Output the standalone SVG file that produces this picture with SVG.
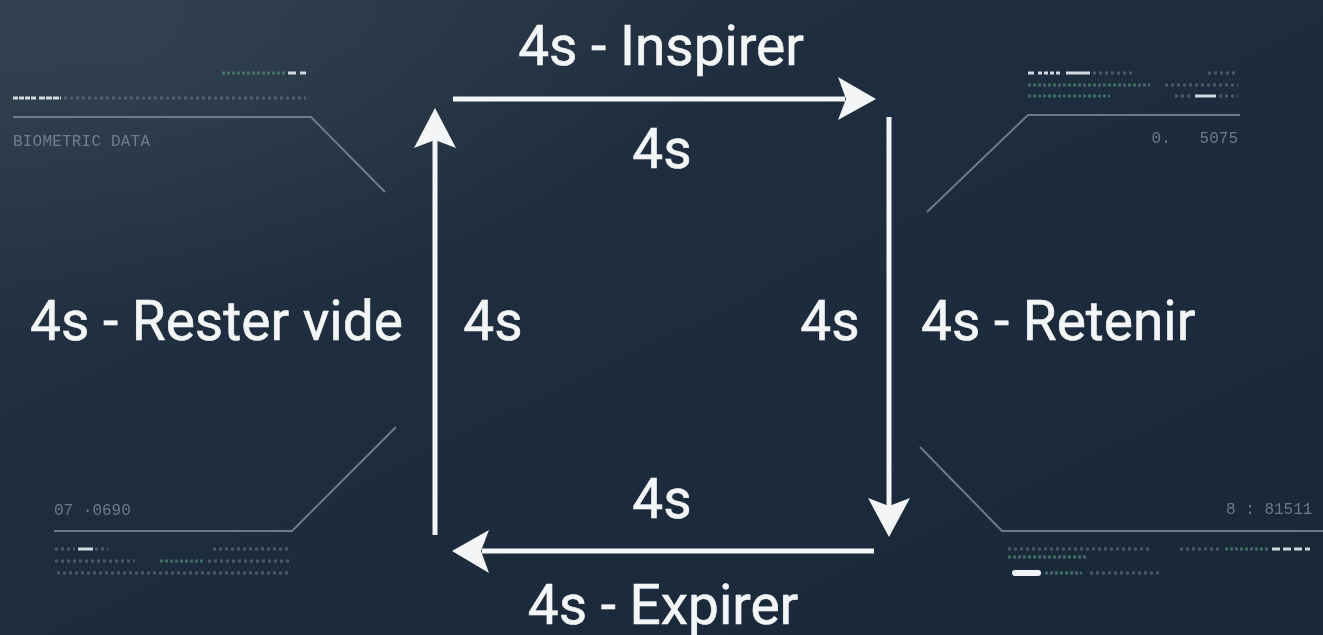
<svg xmlns="http://www.w3.org/2000/svg" width="1323" height="635" viewBox="0 0 1323 635">
  <defs>
    <linearGradient id="bg" x1="0" y1="0" x2="1" y2="1">
      <stop offset="0" stop-color="#2d3b4a"/>
      <stop offset="0.35" stop-color="#1e2e3e"/>
      <stop offset="1" stop-color="#182838"/>
    </linearGradient>
    <radialGradient id="glow" cx="0.08" cy="0.05" r="0.45">
      <stop offset="0" stop-color="#3a4856" stop-opacity="0.5"/>
      <stop offset="1" stop-color="#3a4856" stop-opacity="0"/>
    </radialGradient>
    <filter id="soft" x="-5%" y="-20%" width="110%" height="140%">
      <feGaussianBlur stdDeviation="0.6"/>
    </filter>
  </defs>
  <style>
    .lbl { font-family: Roboto, "Liberation Sans", sans-serif; font-size: 55px; fill: #f3f5f6; stroke: #f3f5f6; stroke-width: 0.6; }
    .arrow { stroke: #f3f5f6; stroke-width: 5; fill: none; }
    .head { fill: #f3f5f6; }
    .hud { stroke: #7e8d9b; stroke-width: 2; fill: none; opacity: 0.8; }
    .num { font-family: "Liberation Mono", "DejaVu Sans Mono", monospace; font-size: 16px; fill: #8794a0; opacity: 0.75; }
    .dim { stroke: #6f7f8c; stroke-width: 3; stroke-dasharray: 3 3; opacity: 0.55; }
    .grn { stroke: #4f8a72; stroke-width: 3; stroke-dasharray: 3 2; opacity: 0.7; }
    .wht { stroke: #e6ecef; stroke-width: 3; opacity: 0.9; }
  </style>
  <rect width="1323" height="635" fill="url(#bg)"/>
  <rect width="1323" height="635" fill="url(#glow)"/>

  <g id="hud-top-left" filter="url(#soft)">
    <line class="grn" x1="222" y1="73" x2="286" y2="73"/>
    <line class="wht" x1="288" y1="73" x2="296" y2="73"/>
    <line class="wht" x1="300" y1="73" x2="306" y2="73"/>
    <line class="wht" x1="13" y1="98" x2="36" y2="98" stroke-dasharray="5 1"/>
    <line class="wht" x1="39" y1="98" x2="61" y2="98" stroke-dasharray="6 1" opacity="0.7"/>
    <line class="dim" x1="64" y1="98" x2="306" y2="98"/>
    <polyline class="hud" points="13,117 311,117 385,192"/>
    <text class="num" x="13" y="146" letter-spacing="0.2">BIOMETRIC DATA</text>
  </g>

  <g id="hud-top-right" filter="url(#soft)">
    <line class="wht" x1="1028" y1="73" x2="1034" y2="73"/>
    <line class="wht" x1="1038" y1="73" x2="1061" y2="73" stroke-dasharray="4 2"/>
    <line class="wht" x1="1066" y1="73" x2="1090" y2="73"/>
    <line class="dim" x1="1093" y1="73" x2="1132" y2="73"/>
    <line class="dim" x1="1208" y1="73" x2="1236" y2="73"/>
    <line class="grn" x1="1028" y1="85" x2="1150" y2="85" opacity="0.55"/>
    <line class="dim" x1="1165" y1="85" x2="1238" y2="85"/>
    <line class="grn" x1="1028" y1="96" x2="1110" y2="96" opacity="0.45"/>
    <line class="dim" x1="1175" y1="96" x2="1193" y2="96"/>
    <line class="wht" x1="1195" y1="96" x2="1216" y2="96"/>
    <line class="dim" x1="1219" y1="96" x2="1238" y2="96"/>
    <polyline class="hud" points="927,212 1028,115 1240,115"/>
    <text class="num" x="1238" y="143" text-anchor="end" xml:space="preserve">0.   5075</text>
  </g>

  <g id="hud-bottom-left" filter="url(#soft)">
    <text class="num" x="54" y="515">07 ·0690</text>
    <polyline class="hud" points="396,427 292,531 54,531"/>
    <line class="dim" x1="55" y1="549" x2="75" y2="549"/>
    <line class="wht" x1="78" y1="549" x2="93" y2="549"/>
    <line class="dim" x1="95" y1="549" x2="108" y2="549"/>
    <line class="dim" x1="213" y1="549" x2="290" y2="549"/>
    <line class="dim" x1="55" y1="561" x2="135" y2="561"/>
    <line class="grn" x1="160" y1="561" x2="205" y2="561"/>
    <line class="dim" x1="208" y1="561" x2="290" y2="561"/>
    <line class="dim" x1="57" y1="573" x2="290" y2="573"/>
  </g>

  <g id="hud-bottom-right" filter="url(#soft)">
    <text class="num" x="1226" y="514" xml:space="preserve">8 : 81511</text>
    <polyline class="hud" points="920,447 1002,531 1323,531"/>
    <line class="dim" x1="1008" y1="549" x2="1150" y2="549"/>
    <line class="dim" x1="1180" y1="549" x2="1222" y2="549"/>
    <line class="grn" x1="1225" y1="549" x2="1270" y2="549"/>
    <line class="wht" x1="1272" y1="549" x2="1310" y2="549" stroke-dasharray="8 3"/>
    <line class="grn" x1="1008" y1="557" x2="1088" y2="557" stroke-width="2" opacity="0.5"/>
    <line x1="1015" y1="573" x2="1038" y2="573" stroke="#f0f4f6" stroke-width="6" stroke-linecap="round"/>
    <line class="grn" x1="1045" y1="573" x2="1082" y2="573" opacity="0.5"/>
    <line class="dim" x1="1090" y1="573" x2="1160" y2="573" stroke-dasharray="2 6"/>
  </g>

  <g id="connectors">
    <line class="arrow" x1="453" y1="99" x2="845" y2="99"/>
    <polygon class="head" points="876,99 838,77 846,99 838,120"/>
    <line class="arrow" x1="889" y1="117" x2="889" y2="507"/>
    <polygon class="head" points="889,537 868,498 889,506 910,498"/>
    <line class="arrow" x1="874" y1="551" x2="482" y2="551"/>
    <polygon class="head" points="452,551 489,530 481,551 489,573"/>
    <line class="arrow" x1="435" y1="535" x2="435" y2="140"/>
    <polygon class="head" points="435,108 414,148 435,140 456,148"/>
  </g>

  <g id="labels">
    <text class="lbl" x="661" y="65" text-anchor="middle">4s - Inspirer</text>
    <text class="lbl" x="662" y="168" text-anchor="middle">4s</text>
    <text class="lbl" x="30" y="340">4s - Rester vide</text>
    <text class="lbl" x="493" y="340" text-anchor="middle">4s</text>
    <text class="lbl" x="830" y="340" text-anchor="middle">4s</text>
    <text class="lbl" x="921" y="340">4s - Retenir</text>
    <text class="lbl" x="662" y="518" text-anchor="middle">4s</text>
    <text class="lbl" x="663" y="624" text-anchor="middle">4s - Expirer</text>
  </g>
</svg>
